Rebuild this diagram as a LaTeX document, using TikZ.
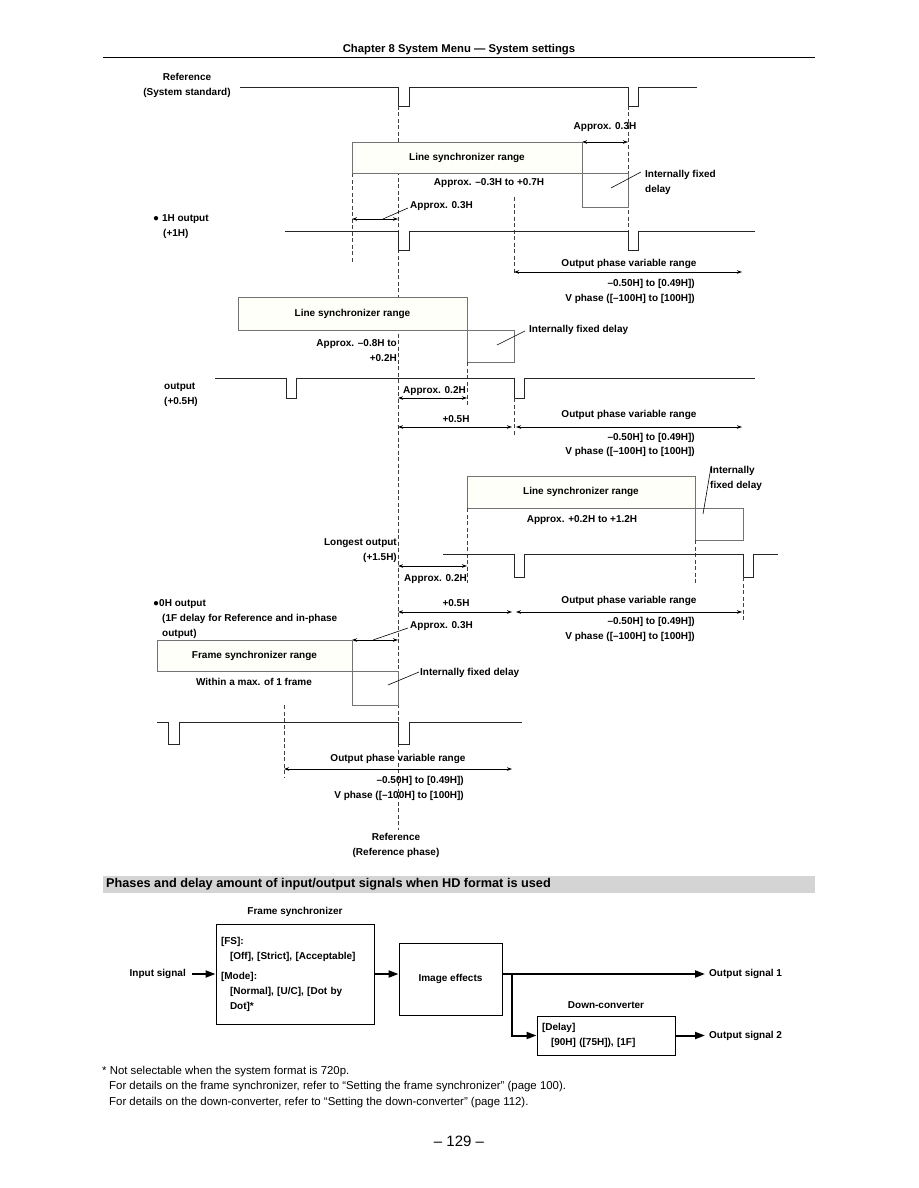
\documentclass[tikz,border=0pt]{standalone}
\usepackage{fontspec}
\setmainfont{Liberation Sans}
\usetikzlibrary{arrows.meta,positioning}

\begin{document}
\begin{tikzpicture}[x=1pt,y=-1pt,>=Stealth,
  lbl/.style={font=\fontsize{10}{15}\selectfont\bfseries,inner sep=0pt},
  wave/.style={line width=0.9pt,black!85},
  rangebox/.style={draw=black!55,line width=0.9pt,fill=yellow!2,inner sep=0pt,outer sep=0pt,
    anchor=north west,font=\fontsize{10}{15}\selectfont\bfseries},
  delaybox/.style={rangebox,fill=white},
  guide/.style={black!75,line width=0.6pt,dash pattern=on 4pt off 2.5pt},
  dim/.style={{Stealth[length=5pt,width=3.5pt]}-{Stealth[length=5pt,width=3.5pt]},line width=0.9pt},
  leader/.style={line width=0.6pt},
  block/.style={draw,line width=1pt,inner sep=5pt,font=\fontsize{10}{15}\selectfont\bfseries},
  flow/.style={-{Triangle[length=10pt,width=7pt]},line width=2pt}]
  \useasboundingbox (0,0) rectangle (918,1188);

  \node[font=\fontsize{11.3}{13}\selectfont\bfseries] (title) at (459,50) {Chapter 8 System Menu — System settings};
  \draw[line width=1pt] (103,58) -- (815,58);

  % reference
  \node[lbl,align=center] (refsys) at (187,85.5) {Reference\\(System standard)};
  \draw[wave] (240,87) -| (398,106) -| (409,87) -| (628,106) -| (638,87) -- (697,87);
  \draw[guide] (398,106) -- (398,830);
  \draw[guide] (628,106) -- (628,231);
  \draw[guide] (352,173) -- (352,262);
  \draw[guide] (514,197) -- (514,275);

  % 1H output
  \node[lbl] (a03a) at (605,127) {Approx. 0.3H};
  \draw[dim] (582,142) -- (628,142);
  \node[rangebox,minimum width=230,minimum height=31] (ls1) at (352,142) {Line synchronizer range};
  \node[delaybox,minimum width=46,minimum height=34] (dl1) at (ls1.south east) {};
  \node[lbl] (rng1) at (489,183) {Approx. –0.3H to +0.7H};
  \node[lbl,align=left,anchor=west] (ifd1) at (645,182.5) {Internally fixed\\delay};
  \draw[leader] (611,188) -- (641,172);
  \node[lbl,anchor=west] (a03b) at (410,206) {Approx. 0.3H};
  \draw[dim] (352,219) -- (398,219);
  \draw[leader] (383,219) -- (408,208);
  \node[lbl,anchor=west] (out1h) at (153,219) {● 1H output};
  \node[lbl,anchor=west] (out1hb) at (163,234) {(+1H)};
  \draw[wave] (285,231) -| (398,250) -| (409,231) -| (628,250) -| (638,231) -- (755,231);
  \node[lbl] (opv1) at (629,264) {Output phase variable range};
  \draw[dim] (514,272) -- (742,272);
  \node[lbl,anchor=east] (hp1) at (695,284) {–0.50H] to [0.49H])};
  \node[lbl,anchor=east] (vp1) at (695,299) {V phase ([–100H] to [100H])};

  % +0.5H output
  \node[rangebox,minimum width=229,minimum height=33] (ls2) at (238,297) {Line synchronizer range};
  \node[delaybox,minimum width=47,minimum height=32] (dl2) at (ls2.south east) {};
  \node[lbl,anchor=west] (ifd2) at (529,330) {Internally fixed delay};
  \draw[leader] (497,345) -- (525,331);
  \node[lbl,align=right,anchor=east] (rng2) at (397,350.5) {Approx. –0.8H to\\+0.2H};
  \draw[guide] (467,362) -- (467,405);
  \draw[wave] (215,378) -| (286,398) -| (296,378) -| (514,398) -| (524,378) -- (755,378);
  \node[lbl,align=left,anchor=west] (out05) at (164,394.5) {output\\(+0.5H)};
  \node[lbl,anchor=west] (a02a) at (403,391) {Approx. 0.2H};
  \draw[dim] (398,398) -- (467,398);
  \draw[guide] (514,398) -- (514,436);
  \node[lbl] (h05a) at (456,419) {+0.5H};
  \draw[dim] (398,427) -- (512,427);
  \node[lbl] (opv2) at (629,415) {Output phase variable range};
  \draw[dim] (516,427) -- (742,427);
  \node[lbl,anchor=east] (hp2) at (695,438) {–0.50H] to [0.49H])};
  \node[lbl,anchor=east] (vp2) at (695,452) {V phase ([–100H] to [100H])};

  % longest output
  \node[lbl,align=left,anchor=west] (ifd3) at (710,478) {Internally\\fixed delay};
  \node[rangebox,minimum width=228,minimum height=32] (ls3) at (467,476) {Line synchronizer range};
  \node[delaybox,minimum width=48,minimum height=32] (dl3) at (ls3.south east) {};
  \draw[leader] (703,514) -- (711,467);
  \node[lbl] (rng3) at (582,520) {Approx. +0.2H to +1.2H};
  \node[lbl,align=right,anchor=east] (out15) at (397,550.5) {Longest output\\(+1.5H)};
  \draw[guide] (467,508) -- (467,583);
  \draw[guide] (695,540) -- (695,585);
  \draw[wave] (443,554) -| (514,577) -| (524,554) -| (743,577) -| (753,554) -- (778,554);
  \node[lbl,anchor=west] (a02b) at (404,579) {Approx. 0.2H};
  \draw[dim] (398,566) -- (467,566);
  \draw[guide] (743,577) -- (743,620);
  \node[lbl] (h05b) at (456,603) {+0.5H};
  \draw[dim] (398,612) -- (512,612);
  \node[lbl] (opv3) at (629,601) {Output phase variable range};
  \draw[dim] (516,612) -- (742,612);
  \node[lbl,anchor=east] (hp3) at (695,622) {–0.50H] to [0.49H])};
  \node[lbl,anchor=east] (vp3) at (695,637) {V phase ([–100H] to [100H])};

  % 0H output
  \node[lbl,anchor=west] (out0h) at (153,604) {●0H output};
  \node[lbl,align=left,anchor=west] (out0hb) at (162,626) {(1F delay for Reference and in-phase\\output)};
  \node[lbl,anchor=west] (a03c) at (410,626) {Approx. 0.3H};
  \draw[dim] (352,640) -- (398,640);
  \draw[leader] (373,640) -- (408,628);
  \node[rangebox,minimum width=195,minimum height=31] (fsr) at (157,640) {Frame synchronizer range};
  \node[delaybox,minimum width=46,minimum height=34] (dl4) at (fsr.south east) {};
  \node[lbl] (rng4) at (254,682) {Within a max. of 1 frame};
  \node[lbl,anchor=west] (ifd4) at (420,673) {Internally fixed delay};
  \draw[leader] (388,685) -- (419,672);
  \draw[wave] (157,722) -| (168,744) -| (179,722) -| (398,744) -| (409,722) -- (522,722);
  \draw[guide] (284,705) -- (284,778);
  \node[lbl] (opv4) at (398,759) {Output phase variable range};
  \draw[dim] (284,769) -- (512,769);
  \node[lbl,anchor=east] (hp4) at (464,781) {–0.50H] to [0.49H])};
  \node[lbl,anchor=east] (vp4) at (464,796) {V phase ([–100H] to [100H])};
  \node[lbl,align=center] (refph) at (396,845) {Reference\\(Reference phase)};

  % HD format
  \fill[black!17] (103,876) rectangle (815,893);
  \node[font=\fontsize{12.7}{14}\selectfont\bfseries,inner sep=0pt,anchor=west] (hd) at (106,884.5)
    {Phases and delay amount of input/output signals when HD format is used};
  \node[block,minimum width=158,minimum height=100,text width=148,align=left] (fs) at (295,974)
    {[FS]:\\\hspace*{9pt}[Off], [Strict], [Acceptable]\\[5pt]{}[Mode]:\\\hspace*{9pt}[Normal], [U/C], [Dot by\\\hspace*{9pt}Dot]*};
  \node[lbl,above=7pt of fs] (fslbl) {Frame synchronizer};
  \node[lbl,anchor=east] (insig) at (186,974) {Input signal};
  \node[block,minimum width=103,minimum height=72] (fx) at (450.5,979) {Image effects};
  \node[block,minimum width=138,minimum height=39,text width=128,align=left] (dc) at (606,1035.5)
    {[Delay]\\\hspace*{9pt}[90H] ([75H]), [1F]};
  \node[lbl,above=7pt of dc] (dclbl) {Down-converter};
  \node[lbl,anchor=west] (sig1) at (709,974) {Output signal 1};
  \node[lbl,anchor=west] (sig2) at (709,1035.5) {Output signal 2};
  \coordinate (split) at (512,974);
  \draw[flow,shorten <=6pt] (insig) -- (fs);
  \draw[flow] (fs.east) -- (fs.east -| fx.west);
  \draw[flow,shorten >=4pt] (fs.east -| fx.east) -- (sig1.west);
  \draw[flow] (split) |- (dc.west);
  \draw[flow,shorten >=4pt] (dc.east) -- (sig2.west);

  \node[font=\fontsize{11.4}{15.5}\selectfont,inner sep=0pt,align=left,anchor=north west] (notes) at (102,1066)
    {* Not selectable when the system format is 720p.\\
     \hspace*{7pt}For details on the frame synchronizer, refer to “Setting the frame synchronizer” (page 100).\\
     \hspace*{7pt}For details on the down-converter, refer to “Setting the down-converter” (page 112).};
  \node[font=\fontsize{15}{17}\selectfont] (page) at (459,1141) {– 129 –};
\end{tikzpicture}
\end{document}
